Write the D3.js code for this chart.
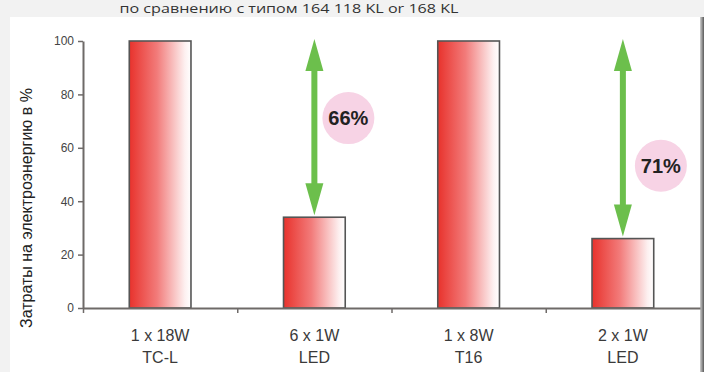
<!DOCTYPE html>
<html>
<head>
<meta charset="utf-8">
<script src="https://cdn.jsdelivr.net/npm/d3@7"></script>
<style>
  html, body { margin: 0; padding: 0; background: #fff; }
  svg { display: block; }
</style>
</head>
<body>
<div id="chart"></div>
<script>
// data
var labelsTop = ["1 x 18W", "6 x 1W", "1 x 8W", "2 x 1W"];
var labelsBottom = ["TC-L", "LED", "T16", "LED"];
var values = [100, 34, 100, 26];
var yTicks = [0, 20, 40, 60, 80, 100];
var saveFrom = [0, 2];          // index of the reference bar
var saveTo = [1, 3];            // index of the LED bar
var saveLabels = ["66%", "71%"];
var titleText = "по сравнению с типом 164 118 KL or 168 KL";
var yTitle = "Затраты на электроэнергию в %";

var W = 704, H = 372;
var margin = {top: 41, right: 4, bottom: 64, left: 83};

var svg = d3.select("#chart").append("svg")
    .attr("width", W)
    .attr("height", H);

// page background + white panel
svg.append("rect").attr("width", W).attr("height", H).attr("fill", "#f2f2f2");
var edge = svg.append("defs").append("linearGradient").attr("id", "edge");
edge.append("stop").attr("offset", "0%").attr("stop-color", "#d0d0d0");
edge.append("stop").attr("offset", "100%").attr("stop-color", "#5a5a5a");
svg.append("rect").attr("x", 10).attr("y", 17).attr("width", 690).attr("height", H - 17).attr("fill", "#fff");
svg.append("rect").attr("x", 700).attr("y", 17).attr("width", 4).attr("height", H - 17).attr("fill", "url(#edge)");

// bar gradient red -> white
var grad = svg.select("defs").append("linearGradient").attr("id", "barGrad");
grad.append("stop").attr("offset", "0%").attr("stop-color", "#e8322c");
grad.append("stop").attr("offset", "45%").attr("stop-color", "#f27b7a");
grad.append("stop").attr("offset", "90%").attr("stop-color", "#fdf0f0");
grad.append("stop").attr("offset", "100%").attr("stop-color", "#ffffff");

// heading at top
svg.append("text")
    .attr("x", 289).attr("y", 13)
    .attr("text-anchor", "middle")
    .attr("textLength", 339).attr("lengthAdjust", "spacingAndGlyphs")
    .style("font-family", "'Open Sans', 'Liberation Sans', sans-serif")
    .style("font-size", "12px")
    .attr("fill", "#333")
    .text(titleText);

var x = d3.scaleBand()
    .domain(d3.range(values.length))
    .range([margin.left, W - margin.right])
    .padding(0);

var y = d3.scaleLinear()
    .domain([0, 100])
    .range([H - margin.bottom, margin.top]);

var barW = x.bandwidth() * 0.4;
function cx(i) { return x(i) + x.bandwidth() / 2; }

// bars
svg.append("g").selectAll("rect")
    .data(values)
    .join("rect")
    .attr("x", function(d, i) { return cx(i) - barW / 2; })
    .attr("y", function(d) { return y(d); })
    .attr("width", barW)
    .attr("height", function(d) { return y(0) - y(d); })
    .attr("fill", "url(#barGrad)")
    .attr("stroke", "#555")
    .attr("stroke-width", 1.6);

// Y axis
var yAxis = svg.append("g")
    .attr("transform", "translate(" + margin.left + ",0)")
    .call(d3.axisLeft(y).tickValues(yTicks).tickSize(5).tickSizeOuter(0));
// X axis, ticks at band boundaries
var xAxis = svg.append("g")
    .attr("transform", "translate(0," + y(0) + ")")
    .call(d3.axisBottom(d3.scaleLinear().domain([0, values.length]).range(x.range()))
        .tickValues(d3.range(values.length)).tickSize(5).tickSizeOuter(0).tickFormat(""));

[yAxis, xAxis].forEach(function(a) {
  a.select(".domain").attr("stroke", "#6e6a68").attr("stroke-width", 2);
  a.selectAll(".tick line").attr("stroke", "#6e6a68").attr("stroke-width", 1.5);
});
yAxis.selectAll(".tick text")
    .attr("x", -9)
    .style("font-family", "'Liberation Sans', Arial, sans-serif")
    .style("font-size", "12px")
    .attr("fill", "#444");

// category labels
var catG = svg.append("g")
    .style("font-family", "'Liberation Sans', Arial, sans-serif")
    .style("font-size", "16px")
    .attr("fill", "#3a3a3a")
    .attr("text-anchor", "middle");
catG.selectAll("text.top").data(labelsTop).join("text")
    .attr("class", "top")
    .attr("x", function(d, i) { return cx(i); })
    .attr("y", y(0) + 33)
    .text(function(d) { return d; });
catG.selectAll("text.bot").data(labelsBottom).join("text")
    .attr("class", "bot")
    .attr("x", function(d, i) { return cx(i); })
    .attr("y", y(0) + 55)
    .text(function(d) { return d; });

// y title
svg.append("text")
    .attr("transform", "translate(32," + 208 + ") rotate(-90)")
    .attr("text-anchor", "middle")
    .style("font-family", "'Liberation Sans', Arial, sans-serif")
    .style("font-size", "16px")
    .attr("fill", "#222")
    .text(yTitle);

// savings arrows + badges
var green = "#6cbf4c";
var headL = 32, headW = 18, shaft = 6;
var badgeOffset = [[34, -9], [38, 28]];
saveTo.forEach(function(t, k) {
  var ax = cx(t);
  var y1 = y(values[saveFrom[k]]) - 2, y2 = y(values[t]) - 2;
  var g = svg.append("g");
  g.append("rect")
      .attr("x", ax - shaft / 2).attr("y", y1 + headL - 4)
      .attr("width", shaft).attr("height", (y2 - y1) - 2 * headL + 8)
      .attr("fill", green);
  g.append("path")
      .attr("d", "M" + ax + "," + y1 + " L" + (ax + headW / 2) + "," + (y1 + headL) +
                 " L" + (ax - headW / 2) + "," + (y1 + headL) + "Z")
      .attr("fill", green);
  g.append("path")
      .attr("d", "M" + ax + "," + y2 + " L" + (ax + headW / 2) + "," + (y2 - headL) +
                 " L" + (ax - headW / 2) + "," + (y2 - headL) + "Z")
      .attr("fill", green);

  var bx = ax + badgeOffset[k][0];
  var by = (y1 + y2) / 2 + badgeOffset[k][1];
  g.append("circle").attr("cx", bx).attr("cy", by).attr("r", 26).attr("fill", "#f7d3e5");
  g.append("text")
      .attr("x", bx).attr("y", by + 7)
      .attr("text-anchor", "middle")
      .style("font-family", "'Liberation Sans', Arial, sans-serif")
      .style("font-size", "20px")
      .style("font-weight", "bold")
      .attr("fill", "#222")
      .text(saveLabels[k]);
});
</script>
</body>
</html>
